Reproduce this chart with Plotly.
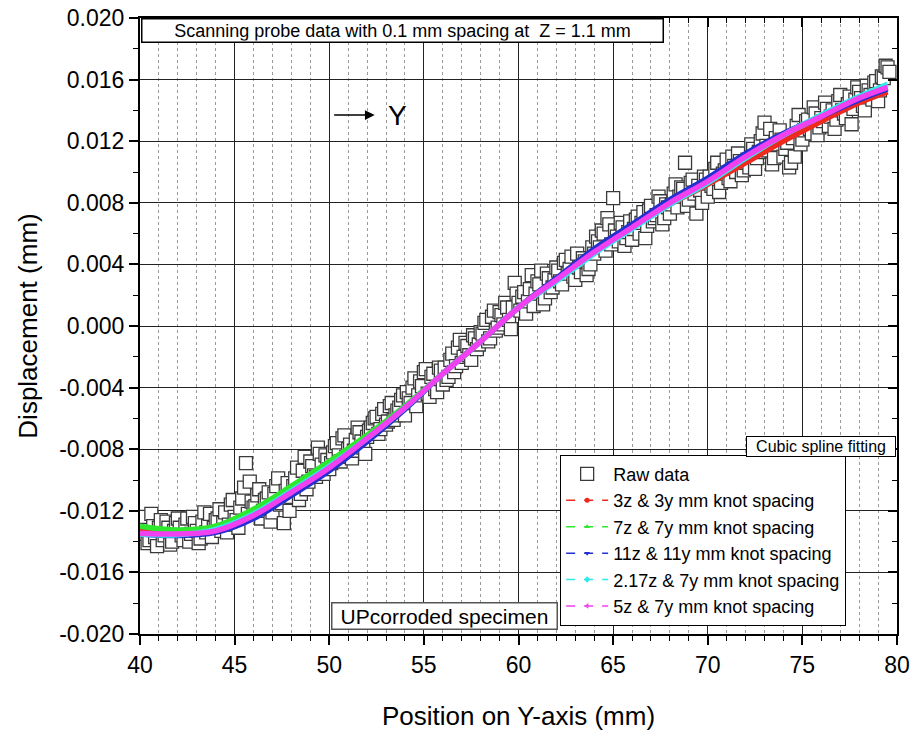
import numpy as np
import plotly.graph_objects as go

# ---------------- data ----------------
# raw probe readings, 0.1 mm spacing (stored as two interleaved halves)
raw_x_a = np.round(np.arange(40.2, 79.61, 0.2), 1)
raw_y_a = [
    -0.0128, -0.0141, -0.0122, -0.0137, -0.0131, -0.0139, -0.0127, -0.0142, -0.0133, -0.0125,
    -0.0136, -0.0129, -0.0140, -0.0124, -0.0133, -0.0138, -0.0121, -0.0130, -0.0137, -0.0126,
    -0.0119, -0.0128, -0.0134, -0.0116, -0.0124, -0.0131, -0.0112, -0.0089, -0.0101, -0.0118,
    -0.0110, -0.0125, -0.0113, -0.0108, -0.0121, -0.0104, -0.0116, -0.0128, -0.0102, -0.0111,
    -0.0099, -0.0113, -0.0094, -0.0106, -0.0088, -0.0097, -0.0079, -0.0090, -0.0084, -0.0093,
    -0.0082, -0.0076, -0.0088, -0.0071, -0.0080, -0.0086, -0.0074, -0.0069, -0.0079, -0.0072,
    -0.0066, -0.0060, -0.0070, -0.0057, -0.0064, -0.0052, -0.0061, -0.0055, -0.0048, -0.0058,
    -0.0047, -0.0040, -0.0052, -0.0036, -0.0030, -0.0044, -0.0033, -0.0041, -0.0027, -0.0038,
    -0.0035, -0.0022, -0.0030, -0.0014, -0.0024, -0.0011, -0.0019, -0.0006, -0.0015, -0.0004,
    0.0002, -0.0010, 0.0006, -0.0003, 0.0009, 0.0001, 0.0012, -0.0002, 0.0028, 0.0015,
    0.0019, 0.0008, 0.0024, 0.0013, 0.0029, 0.0036, 0.0018, 0.0031, 0.0025, 0.0038,
    0.0029, 0.0041, 0.0034, 0.0045, 0.0030, 0.0038, 0.0044, 0.0033, 0.0040, 0.0047,
    0.0055, 0.0062, 0.0049, 0.0066, 0.0083, 0.0058, 0.0067, 0.0052, 0.0061, 0.0056,
    0.0069, 0.0060, 0.0074, 0.0065, 0.0078, 0.0070, 0.0084, 0.0066, 0.0079, 0.0073,
    0.0086, 0.0077, 0.0090, 0.0106, 0.0082, 0.0095, 0.0073, 0.0088, 0.0097, 0.0084,
    0.0091, 0.0102, 0.0087, 0.0099, 0.0108, 0.0094, 0.0104, 0.0112, 0.0098, 0.0106,
    0.0103, 0.0115, 0.0109, 0.0120, 0.0132, 0.0114, 0.0105, 0.0122, 0.0127, 0.0110,
    0.0119, 0.0106, 0.0110, 0.0137, 0.0121, 0.0133, 0.0128, 0.0142, 0.0124, 0.0135,
    0.0145, 0.0130, 0.0140, 0.0134, 0.0150, 0.0138, 0.0144, 0.0131, 0.0147, 0.0152,
    0.0143, 0.0156, 0.0150, 0.0158, 0.0146, 0.0162, 0.0169, 0.0165,
]
raw_x_b = np.round(np.arange(40.1, 79.51, 0.2), 1)
raw_y_b = [
    -0.0135, -0.0124, -0.0139, -0.0130, -0.0143, -0.0126, -0.0136, -0.0131, -0.0140, -0.0128,
    -0.0131, -0.0139, -0.0125, -0.0135, -0.0128, -0.0141, -0.0127, -0.0134, -0.0122, -0.0131,
    -0.0125, -0.0133, -0.0121, -0.0129, -0.0113, -0.0126, -0.0118, -0.0105, -0.0122, -0.0114,
    -0.0117, -0.0106, -0.0120, -0.0112, -0.0127, -0.0109, -0.0099, -0.0115, -0.0107, -0.0120,
    -0.0104, -0.0092, -0.0109, -0.0085, -0.0101, -0.0091, -0.0098, -0.0083, -0.0096, -0.0087,
    -0.0089, -0.0078, -0.0084, -0.0073, -0.0085, -0.0077, -0.0081, -0.0066, -0.0075, -0.0083,
    -0.0068, -0.0063, -0.0059, -0.0067, -0.0054, -0.0062, -0.0050, -0.0058, -0.0053, -0.0045,
    -0.0043, -0.0050, -0.0034, -0.0045, -0.0039, -0.0028, -0.0046, -0.0031, -0.0043, -0.0029,
    -0.0027, -0.0033, -0.0018, -0.0026, -0.0009, -0.0020, -0.0013, -0.0022, -0.0008, -0.0012,
    -0.0005, 0.0004, -0.0008, 0.0010, -0.0001, 0.0007, 0.0015, 0.0004, 0.0012, 0.0021,
    0.0010, 0.0022, 0.0016, 0.0033, 0.0021, 0.0027, 0.0014, 0.0034, 0.0022, 0.0030,
    0.0036, 0.0027, 0.0043, 0.0037, 0.0032, 0.0047, 0.0035, 0.0042, 0.0037, 0.0051,
    0.0058, 0.0051, 0.0060, 0.0070, 0.0053, 0.0062, 0.0055, 0.0064, 0.0057, 0.0068,
    0.0063, 0.0071, 0.0067, 0.0057, 0.0075, 0.0068, 0.0072, 0.0081, 0.0070, 0.0077,
    0.0079, 0.0092, 0.0084, 0.0089, 0.0078, 0.0093, 0.0086, 0.0091, 0.0080, 0.0095,
    0.0097, 0.0089, 0.0106, 0.0093, 0.0101, 0.0096, 0.0110, 0.0100, 0.0107, 0.0101,
    0.0108, 0.0118, 0.0102, 0.0113, 0.0125, 0.0117, 0.0128, 0.0109, 0.0118, 0.0121,
    0.0115, 0.0103, 0.0122, 0.0130, 0.0118, 0.0127, 0.0134, 0.0125, 0.0138, 0.0129,
    0.0133, 0.0141, 0.0136, 0.0128, 0.0146, 0.0140, 0.0135, 0.0149, 0.0141, 0.0155,
    0.0148, 0.0140, 0.0153, 0.0147, 0.0159, 0.0153, 0.0161, 0.0168,
]

fit_x = [40, 42, 44, 46, 48, 50, 52, 54, 56, 58, 60, 62, 64, 66, 68, 70, 72, 74, 76, 78, 79.5]
fit_3z3y = [-0.0133, -0.01345, -0.0132, -0.0123, -0.0107, -0.0091, -0.0073, -0.0053, -0.0031, -0.0010,
            0.0012, 0.0030, 0.0048, 0.0064, 0.0079, 0.0092, 0.0106, 0.0120, 0.0133, 0.0145, 0.0152]
fit_7z7y = [-0.0130, -0.01325, -0.0130, -0.0119, -0.0104, -0.0088, -0.0071, -0.0052, -0.0031, -0.0010,
            0.0012, 0.0030, 0.0048, 0.0064, 0.0081, 0.0095, 0.0110, 0.0124, 0.0136, 0.0148, 0.0155]
fit_11z11y = [-0.0135, -0.0136, -0.0134, -0.0125, -0.0110, -0.0094, -0.0075, -0.0054, -0.0031, -0.0010,
              0.0012, 0.0031, 0.0050, 0.0066, 0.0082, 0.0096, 0.0112, 0.0125, 0.0136, 0.0147, 0.0154]
fit_217z7y = [-0.0135, -0.01355, -0.0132, -0.0122, -0.0107, -0.0091, -0.0073, -0.0053, -0.0031, -0.0010,
              0.0012, 0.0029, 0.0047, 0.0063, 0.0079, 0.0093, 0.0109, 0.0124, 0.0137, 0.0149, 0.0157]
fit_5z7y = [-0.01345, -0.0135, -0.0133, -0.0123, -0.0108, -0.0092, -0.0073, -0.0053, -0.0031, -0.0010,
            0.0012, 0.0030, 0.0048, 0.0064, 0.0080, 0.0094, 0.0110, 0.0124, 0.0136, 0.0148, 0.0155]

fits = [
    ("3z & 3y mm knot spacing", fit_3z3y, "#f0281e", "circle"),
    ("7z & 7y mm knot spacing", fit_7z7y, "#2ee82e", "triangle-up"),
    ("11z & 11y mm knot spacing", fit_11z11y, "#2230d0", "triangle-down"),
    ("2.17z & 7y mm knot spacing", fit_217z7y, "#30eaea", "diamond"),
    ("5z & 7y mm knot spacing", fit_5z7y, "#f040f0", "triangle-left"),
]

x_ticks = [40, 45, 50, 55, 60, 65, 70, 75, 80]
y_ticks = [-0.020, -0.016, -0.012, -0.008, -0.004, 0.000, 0.004, 0.008, 0.012, 0.016, 0.020]
y_ticktext = ["-0.020", "-0.016", "-0.012", "-0.008", "-0.004", "0.000",
              "0.004", "0.008", "0.012", "0.016", "0.020"]

FONT = "Liberation Sans, Arial, sans-serif"

# merge the two halves in x order
raw_x = np.concatenate([raw_x_b, raw_x_a])
raw_y = np.concatenate([raw_y_b, raw_y_a])
order = np.argsort(raw_x, kind="stable")
raw_x, raw_y = raw_x[order], raw_y[order]

fig = go.Figure()

fig.add_trace(go.Scatter(
    x=raw_x, y=raw_y, mode="markers", name="Raw data",
    marker=dict(symbol="square", size=13, color="white",
                line=dict(color="#3a3a3a", width=1.3)),
))

for name, ys, col, sym in fits:
    fig.add_trace(go.Scatter(
        x=fit_x, y=ys, mode="lines", line=dict(color=col, width=5.5, shape="spline"),
        showlegend=False, hoverinfo="skip",
    ))
for name, ys, col, sym in fits:
    fig.add_trace(go.Scatter(
        x=[None], y=[None], mode="lines+markers", name=name,
        line=dict(color=col, width=1.5, dash="dash"),
        marker=dict(symbol=sym, size=5, color=col),
    ))

# dummy trace for mirrored axes with inside ticks
fig.add_trace(go.Scatter(x=[None], y=[None], xaxis="x2", yaxis="y2", showlegend=False, hoverinfo="skip"))

fig.update_layout(
    width=914, height=740,
    margin=dict(l=140, r=17, t=18, b=106, autoexpand=False),
    paper_bgcolor="white", plot_bgcolor="white",
    font=dict(family=FONT, color="black"),
    showlegend=True,
    xaxis=dict(
        range=[40, 80], tickvals=x_ticks, ticktext=[str(v) for v in x_ticks],
        ticks="outside", ticklen=9, tickwidth=1.5, tickcolor="black",
        minor=dict(dtick=1, tick0=40, ticks="outside", ticklen=5, tickwidth=1.2, tickcolor="black",
                   showgrid=True, gridcolor="#9a9a9a", griddash="dot", gridwidth=1),
        showgrid=True, gridcolor="#222", gridwidth=1,
        showline=True, linecolor="black", linewidth=2, mirror=True,
        zeroline=False, automargin=False,
        tickfont=dict(size=23),
        title=dict(text="Position on Y-axis (mm)", font=dict(size=26), standoff=30),
    ),
    yaxis=dict(
        range=[-0.020, 0.020], tickvals=y_ticks, ticktext=y_ticktext,
        ticks="outside", ticklen=9, tickwidth=1.5, tickcolor="black",
        minor=dict(dtick=0.002, tick0=0, ticks="outside", ticklen=5, tickwidth=1.2, tickcolor="black",
                   showgrid=False),
        showgrid=True, gridcolor="#222", gridwidth=1,
        showline=True, linecolor="black", linewidth=2, mirror=True,
        zeroline=False, automargin=False,
        tickfont=dict(size=23),
        title=dict(text="Displacement (mm)", font=dict(size=26), standoff=14),
    ),
    xaxis2=dict(
        overlaying="x", side="top", range=[40, 80], tickvals=x_ticks, showticklabels=False,
        ticks="inside", ticklen=9, tickwidth=1.5, tickcolor="black",
        minor=dict(dtick=1, tick0=40, ticks="inside", ticklen=5, tickwidth=1.2, tickcolor="black"),
        showgrid=False, zeroline=False, showline=False, automargin=False,
    ),
    yaxis2=dict(
        overlaying="y", side="right", range=[-0.020, 0.020], tickvals=y_ticks, showticklabels=False,
        ticks="inside", ticklen=9, tickwidth=1.5, tickcolor="black",
        minor=dict(dtick=0.002, tick0=0, ticks="inside", ticklen=5, tickwidth=1.2, tickcolor="black"),
        showgrid=False, zeroline=False, showline=False, automargin=False,
    ),
    legend=dict(
        x=0.555, y=0.291, xanchor="left", yanchor="top",
        bgcolor="white", bordercolor="black", borderwidth=1,
        font=dict(size=18, family=FONT), tracegroupgap=0,
        itemwidth=42,
    ),
)

fig.add_annotation(
    xref="paper", yref="paper", x=0.0015, y=1.0, xanchor="left", yanchor="top",
    text="Scanning probe data with 0.1 mm spacing at  Z = 1.1 mm",
    showarrow=False, font=dict(size=18), bgcolor="white", bordercolor="black",
    borderwidth=1.5, borderpad=1, width=518, align="center",
)
fig.add_annotation(
    xref="paper", yref="paper", x=0.9985, y=0.321, xanchor="right", yanchor="top",
    text="Cubic spline fitting", showarrow=False, font=dict(size=16),
    bgcolor="white", bordercolor="black", borderwidth=1, borderpad=1, width=146,
)
fig.add_annotation(
    xref="paper", yref="paper", x=0.252, y=0.006, xanchor="left", yanchor="bottom",
    text="UPcorroded specimen", showarrow=False, font=dict(size=21),
    bgcolor="white", bordercolor="#555", borderwidth=1.5, borderpad=1, width=222,
)
fig.add_annotation(
    x=52.4, y=0.0137, ax=-42, ay=0, xref="x", yref="y", text="",
    showarrow=True, arrowhead=2, arrowsize=1.3, arrowwidth=1.5, arrowcolor="black",
)
fig.add_annotation(
    x=53.6, y=0.0137, xref="x", yref="y", text="Y", showarrow=False,
    font=dict(size=28),
)

fig.write_html("out.html")
